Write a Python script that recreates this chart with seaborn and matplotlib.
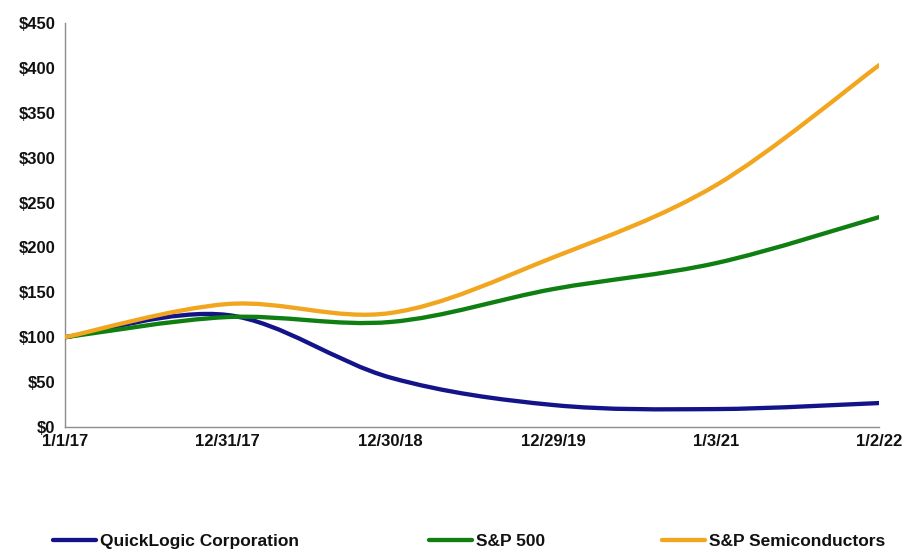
import numpy as np
import pandas as pd
import matplotlib
matplotlib.use('Agg')
import matplotlib.pyplot as plt
from matplotlib.path import Path
from matplotlib.patches import PathPatch
from matplotlib.lines import Line2D
import seaborn as sns

# data
dates = ['1/1/17', '12/31/17', '12/30/18', '12/29/19', '1/3/21', '1/2/22']
quicklogic = [100, 124.7, 55, 24.5, 20, 26.7]
sp500 = [100, 122.5, 117, 153.7, 182.6, 233.8]
sp_semis = [100, 137, 127, 189, 269.5, 403]

names = ['QuickLogic Corporation', 'S&P 500', 'S&P Semiconductors']
colors = ['#14148a', '#0f7f12', '#f2a51e']
yticks = list(range(0, 451, 50))

df = pd.DataFrame({'date': dates, names[0]: quicklogic, names[1]: sp500, names[2]: sp_semis})
long = df.melt(id_vars='date', var_name='series', value_name='value')
long['pos'] = long['date'].map({d: i for i, d in enumerate(dates)})

sns.set_style('white')
plt.rcParams['font.family'] = ['Liberation Sans', 'DejaVu Sans']

fig = plt.figure(figsize=(9.06, 5.52), dpi=100)
ax = fig.add_axes([0.0717, 0.2264, 0.8986, 0.732])

# seaborn places the points on the axes (invisible), smooth curves drawn on top
sns.lineplot(data=long, x='pos', y='value', hue='series', palette=colors,
             linewidth=0, legend=False, ax=ax)


def smooth_path(xs, ys):
    # Excel-style smoothed line: cubic bezier through each point
    pts = np.column_stack([xs, ys]).astype(float)
    n = len(pts)
    verts = [pts[0]]
    codes = [Path.MOVETO]
    for i in range(n - 1):
        p0 = pts[i - 1] if i > 0 else pts[i]
        p1 = pts[i]
        p2 = pts[i + 1]
        p3 = pts[i + 2] if i + 2 < n else pts[i + 1]
        c1 = p1 + (p2 - p0) / 6.0
        c2 = p2 - (p3 - p1) / 6.0
        verts += [c1, c2, p2]
        codes += [Path.CURVE4] * 3
    return Path(verts, codes)


for name, color in zip(names, colors):
    sub = long[long['series'] == name].sort_values('pos')
    patch = PathPatch(smooth_path(sub['pos'].values, sub['value'].values),
                      facecolor='none', edgecolor=color, linewidth=3.1,
                      capstyle='round', joinstyle='round', zorder=3)
    ax.add_patch(patch)

ax.set_xlim(0, len(dates) - 1)
ax.set_ylim(0, 450)
ax.set_xticks(range(len(dates)))
ax.set_xticklabels(dates)
ax.set_yticks(yticks)
ax.set_yticklabels([f'${v}' for v in yticks])
ax.set_xlabel('')
ax.set_ylabel('')

for side in ['top', 'right']:
    ax.spines[side].set_visible(False)
for side in ['left', 'bottom']:
    ax.spines[side].set_color('#8c8c8c')
    ax.spines[side].set_linewidth(1.0)

ax.tick_params(axis='both', which='both', direction='out', length=4, width=0.8,
               color='#8c8c8c', labelsize=12)
ax.tick_params(axis='x', pad=1)
ax.tick_params(axis='y', pad=3)
for lab in ax.get_xticklabels() + ax.get_yticklabels():
    lab.set_fontweight('bold')
    lab.set_color('#111111')

# legend entries placed under the chart like the reference
legend_x = [53, 429, 662]
for name, color, lx in zip(names, colors, legend_x):
    leg = fig.legend([Line2D([], [], color=color, linewidth=3.1)], [name],
                     loc='center left', bbox_to_anchor=(lx / 906, 1 - 541 / 552),
                     frameon=False, handlelength=2.5, handletextpad=0.2,
                     borderpad=0, borderaxespad=0,
                     prop={'weight': 'bold', 'size': 12.5})
    for t in leg.get_texts():
        t.set_color('#111111')

fig.savefig('out.png', dpi=100)
